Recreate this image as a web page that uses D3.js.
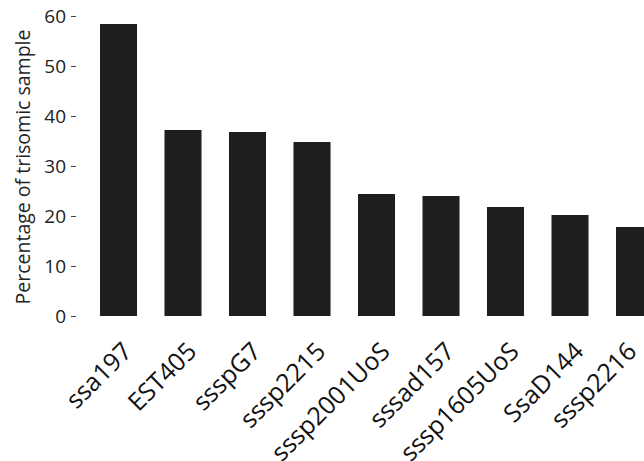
<!DOCTYPE html>
<html>
<head>
<meta charset="utf-8">
<script src="https://cdn.jsdelivr.net/npm/d3@7"></script>
<style>
  body { margin: 0; background: #fff; }
  text { font-family: "Open Sans", sans-serif; }
</style>
</head>
<body>
<div id="chart-area"></div>
<script>
const markers = ['ssa197', 'EST405', 'ssspG7', 'sssp2215', 'sssp2001UoS', 'sssad157', 'sssp1605UoS', 'SsaD144', 'sssp2216']
const percentages = [58.4, 37.2, 36.8, 34.8, 24.4, 24.0, 21.8, 20.2, 17.8]
const yTicks = [0, 10, 20, 30, 40, 50, 60]

const W = 644
const H = 461

const svg = d3.select('#chart-area').append('svg')
  .attr('width', W)
  .attr('height', H)

const x = d3.scaleBand()
  .domain(markers)
  .range([86.25, 666.75])
  .paddingInner(0.426)
  .paddingOuter(0.213)

const y = d3.scaleLinear()
  .domain([0, 60])
  .range([316, 16])

// bars
svg.selectAll('rect').data(markers)
  .enter()
  .append('rect')
  .attr('x', d => x(d))
  .attr('y', (d, i) => y(percentages[i]))
  .attr('width', x.bandwidth())
  .attr('height', (d, i) => y(0) - y(percentages[i]))
  .attr('fill', '#1e1e1c')

// y axis
const yAxis = svg.append('g')
  .attr('transform', 'translate(76, 0)')
  .call(d3.axisLeft(y).tickValues(yTicks).tickSize(5).tickPadding(5))
yAxis.select('.domain').remove()
yAxis.selectAll('line').attr('stroke', '#444')
yAxis.selectAll('text')
  .attr('font-size', '19px')
  .attr('fill', '#222')

// x labels (last one pulled in so it stays inside the picture)
svg.append('g').selectAll('text').data(markers)
  .enter()
  .append('text')
  .attr('transform', d => {
    const ex = Math.min(x(d) + x.bandwidth() / 2 + 15, W - 6)
    return `translate(${ex}, 353) rotate(-45)`
  })
  .attr('text-anchor', 'end')
  .attr('font-size', '25px')
  .attr('fill', '#111')
  .text(d => d)

// y label
svg.append('text')
  .attr('transform', 'rotate(-90)')
  .attr('x', -167)
  .attr('y', 30)
  .attr('text-anchor', 'middle')
  .attr('font-size', '19.5px')
  .attr('fill', '#222')
  .text('Percentage of trisomic sample')
</script>
</body>
</html>
